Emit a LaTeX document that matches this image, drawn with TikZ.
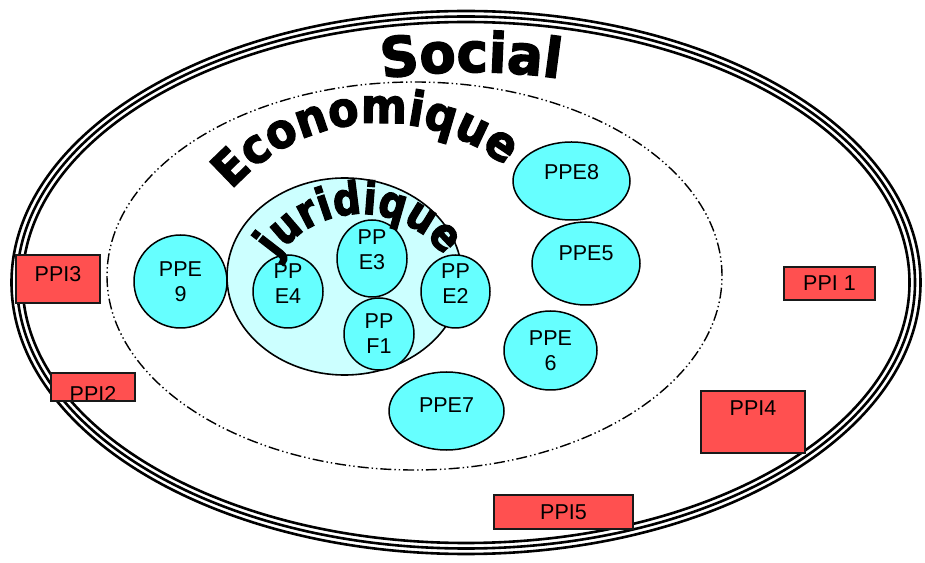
\documentclass[tikz,border=0pt]{standalone}
\usepackage{fontspec}
\setmainfont{Liberation Sans}
\newfontfamily\socfont{DejaVu Sans Bold}[FakeStretch=0.96, FakeBold=2.5]
\newfontfamily\ecofont{DejaVu Sans Bold}[FakeStretch=0.92, FakeBold=2.5]
\newfontfamily\jurfont{DejaVu Sans Bold}[FakeStretch=0.86, FakeBold=2.5]
\usetikzlibrary{shapes.geometric,decorations.text}
\definecolor{ppe}{HTML}{66FFFF}
\definecolor{jur}{HTML}{CCFFFF}
\definecolor{ppi}{HTML}{FF5050}

\begin{document}
\begin{tikzpicture}
        [x=1pt, y=1pt,
         bulle/.style={ellipse, draw, line width=1.5pt, fill=ppe, inner sep=0pt,
                       align=center, font=\fontsize{21.5}{25}\selectfont},
         boite/.style={rectangle, draw=black!90, line width=1.5pt, fill=ppi, inner sep=0pt,
                       font=\fontsize{21.5}{25}\selectfont},
         trait/.style={ellipse, draw, line width=2.6pt, inner sep=0pt},
         monte/.style={text depth=#1},
         descend/.style={text height=#1}]

        \useasboundingbox (0,0) rectangle (925,562);

        % social
        \node [trait, minimum width=909pt, minimum height=543pt] (s1) at (466,279.5) {};
        \node [trait, minimum width=898pt, minimum height=532pt] (s2) at (466,279.5) {};
        \node [trait, minimum width=887pt, minimum height=521pt] (s3) at (466,279.5) {};

        % economique
        \node [ellipse, draw, line width=1.4pt, inner sep=0pt,
               dash pattern=on 11pt off 3pt on 1.4pt off 3pt on 1.4pt off 3pt,
               minimum width=615pt, minimum height=388pt] (e) at (414.5,286) {};

        % juridique
        \node [ellipse, draw, line width=1.6pt, fill=jur, inner sep=0pt,
               minimum width=235pt, minimum height=197pt] (j) at (344.5,285.5) {};

        \node [bulle, minimum width=117pt, minimum height=78pt, monte=18pt] (pe8) at (571.5,381) {PPE8};
        \node [bulle, minimum width=108pt, minimum height=83pt, monte=20pt] (pe5) at (586,298.5) {PPE5};
        \node [bulle, minimum width=93pt,  minimum height=79pt]             (pe6) at (550.5,211.5) {PPE\\6};
        \node [bulle, minimum width=115pt, minimum height=78pt, monte=12pt] (pe7) at (446.5,151) {PPE7};
        \node [bulle, minimum width=93pt,  minimum height=93pt]             (pe9) at (180.5,280.5) {PPE\\9};
        \node [bulle, minimum width=70pt,  minimum height=73pt, descend=24pt] (pe4) at (288,270.5) {PP\\E4};
        \node [bulle, minimum width=70pt,  minimum height=72pt]             (pf1) at (379,228) {PP\\F1};
        \node [bulle, minimum width=70pt,  minimum height=77pt, descend=23pt] (pe3) at (372,303.5) {PP\\E3};
        \node [bulle, minimum width=69pt,  minimum height=73pt, descend=24pt] (pe2) at (455.5,270.5) {PP\\E2};

        \node [boite, minimum width=84pt,  minimum height=48pt, monte=11pt] (pi3) at (58,283) {PPI3};
        \node [boite, minimum width=84pt,  minimum height=28pt,
               path picture={\node [font=\fontsize{21.5}{25}\selectfont] (t2)
                 at ([yshift=-7pt]path picture bounding box.center) {PPI2};}] (pi2) at (93,175) {};
        \node [boite, minimum width=91pt,  minimum height=33pt]             (pi1) at (829.5,278.5) {PPI 1};
        \node [boite, minimum width=104pt, minimum height=62pt, monte=27pt] (pi4) at (753,140) {PPI4};
        \node [boite, minimum width=139pt, minimum height=34pt]             (pi5) at (563.5,50) {PPI5};

        \path [decorate, decoration={text along path, text align=center,
               text={|\socfont\fontsize{55}{55}\selectfont|Social}}]
              (471,-110) ++(100:600pt) arc[start angle=100, end angle=80, radius=600pt];
        \path [decorate, decoration={text along path, text align=center,
               text={|\ecofont\fontsize{48}{48}\selectfont|Economique}}]
              (381,239) ++(150:200pt) arc[start angle=150, end angle=40, radius=200pt];
        \path [decorate, decoration={text along path, text align=center,
               text={|\jurfont\fontsize{45}{45}\selectfont|juridique}}]
              (361,246) ++(152:102pt) arc[start angle=152, end angle=30, radius=102pt];
\end{tikzpicture}
\end{document}
